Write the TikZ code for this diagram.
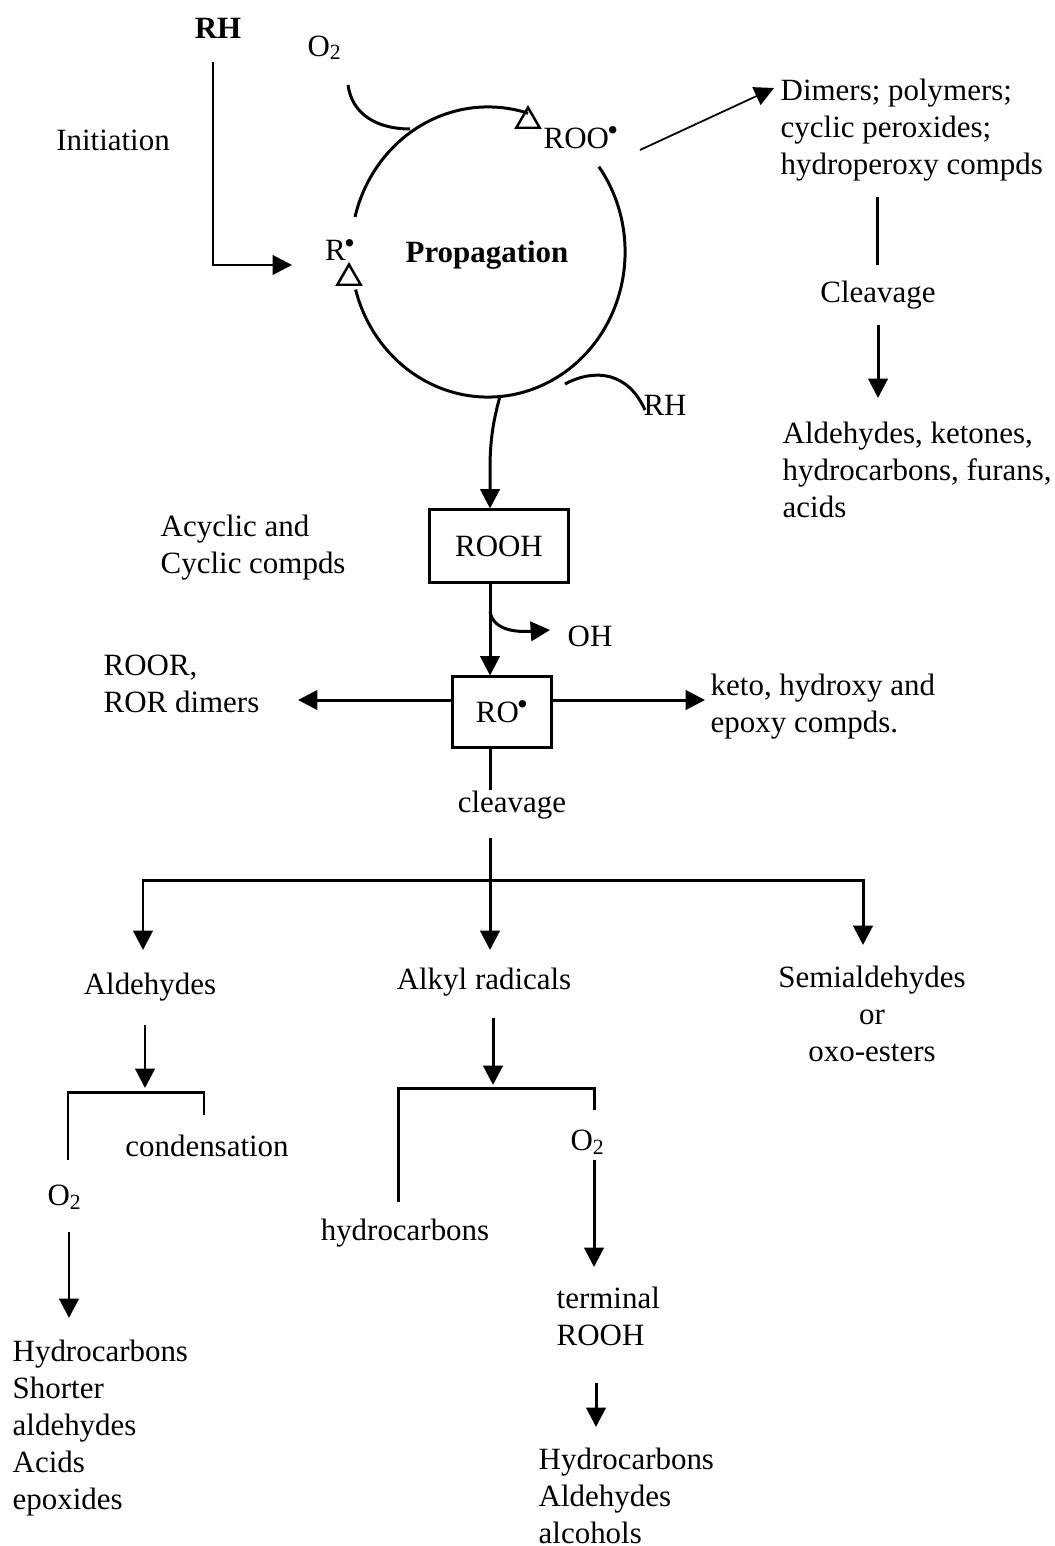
\documentclass[tikz,border=0pt]{standalone}
\usepackage{fontspec}
\setmainfont{Liberation Serif}
\usepackage{tikz}
\usetikzlibrary{arrows.meta,positioning,shapes.geometric,calc}
\newcommand{\rad}{\raisebox{0.55ex}{\kern-0.5pt\textbullet}}

\begin{document}
\begin{tikzpicture}[x=0.01cm,y=-0.01cm,
  font=\fontsize{8.8}{10.5}\selectfont,
  >={Triangle[length=5.5pt,width=5.5pt]},
  linea/.style={line width=0.85pt},
  fina/.style={line width=0.5pt},
  caja/.style={draw,line width=0.85pt,inner sep=0pt},
  texto/.style={align=left,anchor=west,inner sep=0pt},
  delta/.style={draw,line width=0.7pt,regular polygon,regular polygon sides=3,
                minimum size=0.27cm,inner sep=0pt}]

\useasboundingbox (0,0) rectangle (1055,1546);

% Iniciacion
\node[font=\fontsize{8.8}{10.5}\selectfont\bfseries] (rh) at (218,28) {RH};
\node (ini) at (113,140) {Initiation};
\coordinate (rhA) at (213,62);
\coordinate (rhB) at (292,265);
\draw[linea,->] (rhA) |- (rhB);

% Ciclo de propagacion
\coordinate (cen) at (488,252);
\draw[linea] ([shift={(166:1.37cm and 1.45cm)}]cen)
  arc[start angle=166,end angle=73,x radius=1.37cm,y radius=1.45cm];
\draw[linea] ([shift={(36:1.37cm and 1.45cm)}]cen)
  arc[start angle=36,end angle=-165,x radius=1.37cm,y radius=1.45cm];
\node[delta] (triA) at (528,121) {};
\node[delta] (triB) at (349,278) {};

\node (r) at (340,250) {R\rad};
\node[font=\fontsize{8.8}{10.5}\selectfont\bfseries] (prop) at (487,255) {Propagation};
\node[anchor=west,inner sep=0pt] (roo) at (543,138) {ROO\rad};

% Oxigeno
\node (oxA) at (325,48) {O\textsubscript{2}};
\draw[linea] (348,85) .. controls (352,115) and (378,129) .. (410,129);

% RH de la propagacion
\node (rhB2) at (665,405) {RH};
\draw[linea] (565,384) .. controls (595,368) and (628,372) .. (645,410);

% Rama de ROO
\node[texto] (dim) at (780,130) {Dimers; polymers;\\cyclic peroxides;\\hydroperoxy compds};
\coordinate (rooA) at (640,150);
\coordinate (dimA) at (774,88);
\draw[fina,->] (rooA) -- (dimA);

\node (clvA) at (878,295) {Cleavage};
\draw[linea] (877,197) -- (877,265);
\draw[linea,->] (878,325) -- (878,398);
\node[texto] (alc) at (782,470) {Aldehydes, ketones,\\hydrocarbons, furans,\\acids};

% Hidroperoxido
\coordinate (eje) at (490,0);
\node[caja,minimum width=1.38cm,minimum height=0.72cm] (rooh) at (499,546) {ROOH};
\node[texto] (acy) at (160,548) {Acyclic and\\Cyclic compds};
\draw[linea,->] ([shift={(-85:1.37cm and 1.45cm)}]cen)
  .. controls (492,425) and (490,445) .. (490,470) -- (rooh.north -| eje);

\node[caja,minimum width=0.99cm,minimum height=0.70cm] (ro) at (502,712) {RO\rad};
\draw[linea,->] (rooh.south -| eje) -- (ro.north -| eje);
\node (oh) at (590,636) {OH};
\draw[linea,->] (490,612) .. controls (494,632) and (520,632) .. (550,630);

% Alcoxilo
\coordinate (nivel) at (0,700);
\node[texto] (roor) at (103,684) {ROOR,\\ROR dimers};
\node[texto] (keto) at (710,707) {keto, hydroxy and\\epoxy compds.};
\draw[linea,->] (ro.west |- nivel) -- (298,700);
\draw[linea,->] (ro.east |- nivel) -- (705,700);

\node (clvB) at (512,805) {cleavage};
\draw[linea] (ro.south -| eje) -- (490,790);
\draw[linea,->] (490,838) -- (490,950);
\draw[linea,<->] (143,950) |- (863,880) -- (863,945);

% Productos de la escision
\node (ald) at (150,987) {Aldehydes};
\node (alk) at (484,982) {Alkyl radicals};
\node[align=center,inner sep=0pt] (semi) at (872,1014) {Semialdehydes\\or\\oxo-esters};

% Aldehidos
\draw[linea,->] (145,1025) -- (145,1088);
\draw[linea] (68,1160) |- (204,1092) -- (204,1115);
\node (cond) at (207,1146) {condensation};
\node (oxB) at (65,1197) {O\textsubscript{2}};
\draw[linea,->] (69,1232) -- (69,1318);
\node[texto] (hcA) at (12,1428) {Hydrocarbons\\Shorter\\aldehydes\\Acids\\epoxides};

% Radicales alquilo
\draw[linea,->] (493,1018) -- (493,1085);
\draw[linea] (398,1202) |- (594,1088) -- (594,1110);
\node (hcB) at (405,1233) {hydrocarbons};
\node (oxC) at (588,1142) {O\textsubscript{2}};
\draw[linea,->] (594,1160) -- (594,1267);
\node[texto] (term) at (556,1316) {terminal\\ROOH};
\draw[linea,->] (596,1383) -- (596,1427);
\node[texto] (hcC) at (538,1496) {Hydrocarbons\\Aldehydes\\alcohols};

\end{tikzpicture}
\end{document}
